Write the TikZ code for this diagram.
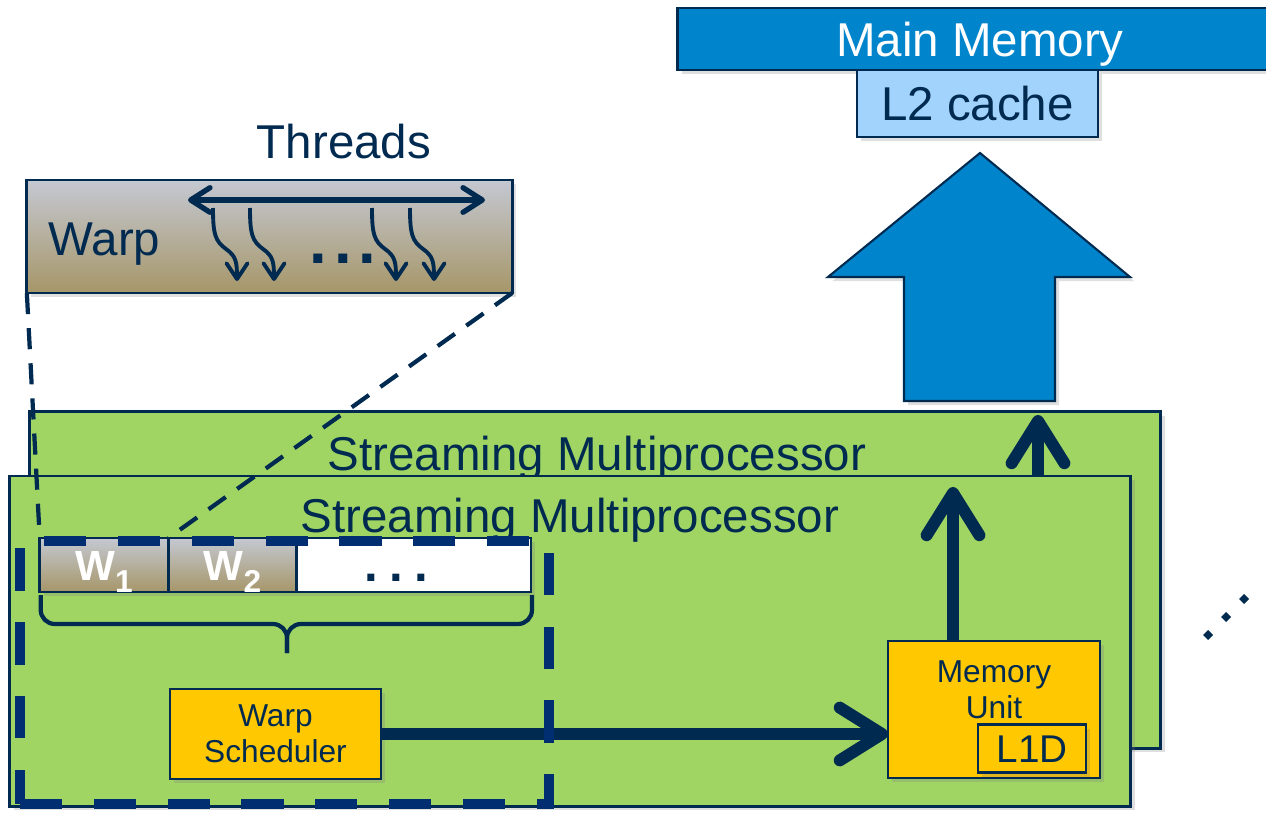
\documentclass[tikz,border=0pt]{standalone}
\usepackage{fontspec}
\setmainfont{Liberation Sans}
\usetikzlibrary{arrows.meta, positioning, shadows}

\definecolor{navy}{RGB}{0,42,80}
\definecolor{dashblue}{RGB}{0,46,112}
\definecolor{smgreen}{RGB}{160,213,100}
\definecolor{unityellow}{RGB}{255,200,0}
\definecolor{membl}{RGB}{0,132,204}
\definecolor{cachebl}{RGB}{162,211,252}
\definecolor{warptop}{RGB}{196,200,210}
\definecolor{warpbot}{RGB}{166,150,104}

\newcommand{\bigtxt}{\fontsize{13.5}{15}\selectfont}
\newcommand{\smalltxt}{\fontsize{9}{10.3}\selectfont}
\newcommand{\slottxt}{\fontsize{12}{14}\selectfont\bfseries}
\newcommand{\slotidx}[1]{\raisebox{-3.5pt}{\fontsize{9}{10}\selectfont #1}}

\begin{document}
\begin{tikzpicture}[
    x=0.01cm, y=-0.01cm,
    box/.style={rectangle, draw=navy, line width=0.8pt, inner sep=0pt, outer sep=0pt,
        drop shadow={opacity=0.25, shadow xshift=1.2pt, shadow yshift=-1.2pt}},
    smbox/.style={box, fill=smgreen},
    unitbox/.style={box, fill=unityellow, text=navy, font=\smalltxt, align=center},
    slot/.style={box, shading=axis, top color=warptop, bottom color=warpbot,
        minimum width=1.285cm, minimum height=0.54cm, text height=8.6pt, text depth=0pt,
        text=white, font=\slottxt},
    smtitle/.style={text=navy, font=\bigtxt, inner sep=0pt},
    flow/.style={draw=navy, line width=3.4pt, -{Straight Barb[length=12pt, width=15pt, round]}},
    thread/.style={draw=navy, line width=1.1pt, -{Straight Barb[length=4.5pt, width=6pt, round]}},
    zoomline/.style={draw=navy, line width=1.2pt, dash pattern=on 6pt off 4pt},
    bracepath/.style={draw=navy, line width=1.2pt, rounded corners=4pt}
]
\useasboundingbox (0,0) rectangle (1266,815);

% memory side
\node[box, fill=membl, minimum width=6.04cm, minimum height=0.62cm, text height=9.7pt,
      text depth=0pt, text=white, font=\bigtxt] (mainmem) at (980,39) {Main Memory};
\node[box, fill=cachebl, minimum width=2.41cm, minimum height=0.67cm, text height=9.7pt,
      text depth=0pt, text=navy, font=\bigtxt] (l2) at (977.5,103.5) {L2 cache};
\draw[fill=membl, draw=navy, line width=0.6pt,
      drop shadow={opacity=0.25, shadow xshift=1.2pt, shadow yshift=-1.2pt}]
    (904,401) -- (904,277) -- (828,277) -- (980,153) -- (1130,277) -- (1055,277) -- (1055,401) -- cycle;

% the two SMs
\node[smbox, minimum width=11.30cm, minimum height=3.36cm] (smback) at (595,580) {};
\node[smtitle, anchor=base] (smbacktitle) at (597,470) {Streaming Multiprocessor};
\node[smbox, minimum width=11.20cm, minimum height=3.30cm] (smfront) at (570,641) {};
\node[smtitle, anchor=base] (smfronttitle) at (570,532) {Streaming Multiprocessor};

\coordinate (smup) at (1038,415);
\draw[flow] (smfront.north -| smup) -- (smup);

% units
\node[unitbox, minimum width=2.12cm, minimum height=1.37cm] (mem) at (994,709.5) {};
\node[text=navy, font=\smalltxt, align=center, inner sep=0pt] (memtext) at (994,689.5) {Memory\\Unit};
\node[unitbox, font=\fontsize{11}{13}\selectfont, minimum width=1.08cm, minimum height=0.48cm,
      text height=7.9pt, text depth=0pt] (l1d) at (1032,748.5) {L1D};
\node[unitbox, minimum width=2.11cm, minimum height=0.90cm] (sched) at (275.5,734) {Warp\\Scheduler};

\draw[flow] (sched.east) -- (sched.east -| mem.west);
\coordinate (memup) at (953,487);
\draw[flow] (mem.north -| memup) -- (memup);

% warp slots
\node[slot] (w1) at (104,565) {W\slotidx{1}};
\node[slot, right=0pt of w1] (w2) {W\slotidx{2}};
\node[box, fill=white, minimum width=2.34cm, minimum height=0.54cm, right=0pt of w2] (wmore) {};
\node[text=navy, font=\fontsize{14}{16}\selectfont\bfseries, inner sep=0pt, anchor=base]
    (wmoredots) at (396,581) {.\hspace{3.2pt}.\hspace{3.2pt}.};

\draw[bracepath] (w1.south west) ++(1,3) |- (287,624) -- (287,653);
\draw[bracepath] (wmore.south east) ++(1,3) |- (287,624) -- (287,653);

\node[draw=dashblue, line width=2.9pt, dash pattern=on 12pt off 9pt, inner sep=0pt,
      minimum width=5.29cm, minimum height=2.63cm] (warpgroup) at (284.5,672.5) {};

% one warp, zoomed in
\node[box, shading=axis, top color=warptop, bottom color=warpbot,
      minimum width=4.85cm, minimum height=1.13cm] (warp) at (269.5,236.5) {};
\node[smtitle, anchor=base west] (warplabel) at (48,255) {Warp};
\node[smtitle, anchor=base] (threads) at (344,158) {Threads};
\coordinate (thl) at (188,200);
\coordinate (thr) at (485,200);
\draw[navy, line width=1.5pt, {Straight Barb[length=5.5pt, width=7pt, round]}-{Straight Barb[length=5.5pt, width=7pt, round]}] (thl) -- (thr);
\foreach \x in {213,250,372,410}
    \draw[thread] (\x,208) .. controls (\x,234) and (\x+2,241) .. (\x+13,249)
        .. controls (\x+23,256) and (\x+24,262) .. (\x+24,281);
\node[text=navy, font=\fontsize{18}{20}\selectfont\bfseries, inner sep=0pt, anchor=base]
    (warpdots) at (343,263) {.\hspace{2pt}.\hspace{2pt}.};

\draw[zoomline] (warp.south west) -- (w1.north west);
\draw[zoomline] (warp.south east) -- (w1.north east);

% more SMs
\foreach \i in {0,1,2}
    \fill[navy] (1208+18*\i,635-18*\i) +(-5,0) -- +(0,-5) -- +(5,0) -- +(0,5) -- cycle;
\end{tikzpicture}
\end{document}
